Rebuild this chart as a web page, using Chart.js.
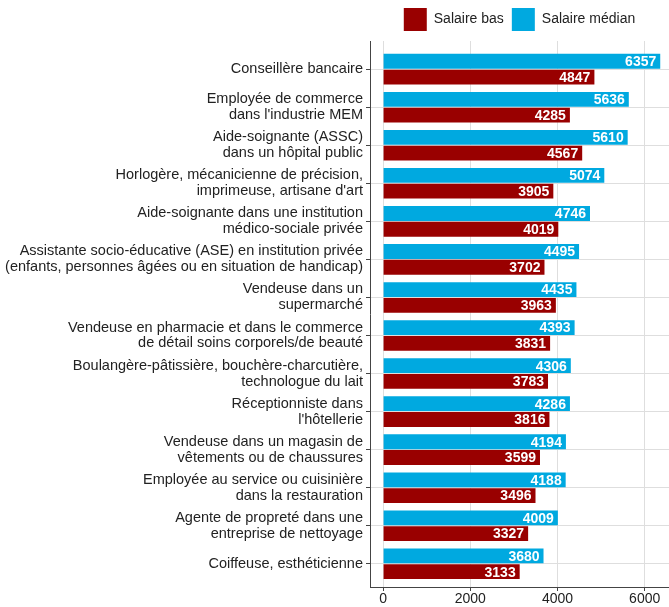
<!DOCTYPE html>
<html lang="fr">
<head>
    <meta charset="UTF-8">
    <title>Salaires - métiers féminins</title>
    <script src="https://cdn.jsdelivr.net/npm/chart.js"></script>
    <style>
        body { margin: 0; background: #fff; }
        .wrap { width: 669px; height: 607px; }
    </style>
</head>
<body>
    <div class="wrap"><canvas id="salaires"></canvas></div>

    <script>
        // Données
        const categories = [
            'Conseillère bancaire',
            ['Employée de commerce', "dans l'industrie MEM"],
            ['Aide-soignante (ASSC)', 'dans un hôpital public'],
            ['Horlogère, mécanicienne de précision,', "imprimeuse, artisane d'art"],
            ['Aide-soignante dans une institution', 'médico-sociale privée'],
            ['Assistante socio-éducative (ASE) en institution privée', '(enfants, personnes âgées ou en situation de handicap)'],
            ['Vendeuse dans un', 'supermarché'],
            ['Vendeuse en pharmacie et dans le commerce', 'de détail soins corporels/de beauté'],
            ['Boulangère-pâtissière, bouchère-charcutière,', 'technologue du lait'],
            ['Réceptionniste dans', "l'hôtellerie"],
            ['Vendeuse dans un magasin de', 'vêtements ou de chaussures'],
            ['Employée au service ou cuisinière', 'dans la restauration'],
            ['Agente de propreté dans une', 'entreprise de nettoyage'],
            'Coiffeuse, esthéticienne'
        ];
        const salaireMedian = [6357, 5636, 5610, 5074, 4746, 4495, 4435, 4393, 4306, 4286, 4194, 4188, 4009, 3680];
        const salaireBas = [4847, 4285, 4567, 3905, 4019, 3702, 3963, 3831, 3783, 3816, 3599, 3496, 3327, 3133];
        const xTicks = [0, 2000, 4000, 6000];

        const FONT = '"Liberation Sans", Arial, sans-serif';

        // Étiquettes blanches au bout des barres
        const barLabels = {
            id: 'barLabels',
            afterDatasetsDraw(chart) {
                const ctx = chart.ctx;
                ctx.save();
                ctx.font = 'bold 14px ' + FONT;
                ctx.fillStyle = '#ffffff';
                ctx.textAlign = 'right';
                ctx.textBaseline = 'middle';
                chart.data.datasets.forEach((ds, i) => {
                    chart.getDatasetMeta(i).data.forEach((bar, j) => {
                        ctx.fillText(ds.data[j].x, bar.x - 4, bar.y + 1);
                    });
                });
                ctx.restore();
            }
        };

        const ctx = document.getElementById('salaires').getContext('2d');
        new Chart(ctx, {
            type: 'bar',
            data: {
                datasets: [
                    {
                        label: 'Salaire médian',
                        data: salaireMedian.map((v, i) => ({ x: v, y: i })),
                        backgroundColor: '#00a9e0',
                        borderWidth: 0
                    },
                    {
                        label: 'Salaire bas',
                        data: salaireBas.map((v, i) => ({ x: v, y: i })),
                        backgroundColor: '#990000',
                        borderWidth: 0
                    }
                ]
            },
            options: {
                indexAxis: 'y',
                responsive: true,
                maintainAspectRatio: false,
                animation: false,
                categoryPercentage: 0.83,
                barPercentage: 0.94,
                layout: { padding: 0 },
                scales: {
                    x: {
                        type: 'linear',
                        min: -300,
                        max: 6558,
                        afterBuildTicks: (scale) => {
                            scale.ticks = xTicks.map(v => ({ value: v }));
                        },
                        ticks: {
                            callback: (v) => String(v),
                            font: { family: FONT, size: 14, lineHeight: 1 },
                            color: '#222',
                            padding: 1,
                            maxRotation: 0
                        },
                        grid: { color: '#dedede', tickColor: '#444', tickLength: 4 },
                        border: { color: '#444', width: 1 }
                    },
                    y: {
                        type: 'linear',
                        reverse: true,
                        offset: false,
                        min: -0.74,
                        max: 13.61,
                        afterBuildTicks: (scale) => {
                            scale.ticks = categories.map((c, i) => ({ value: i }));
                        },
                        afterFit: (scale) => {
                            scale.width = 370;
                        },
                        ticks: {
                            autoSkip: false,
                            callback: (v) => categories[v],
                            font: { family: FONT, size: 14.5, lineHeight: 1.1 },
                            color: '#222',
                            padding: 3
                        },
                        grid: { offset: false, color: '#dedede', tickColor: '#444', tickLength: 4 },
                        border: { color: '#444', width: 1 }
                    }
                },
                plugins: {
                    legend: {
                        position: 'top',
                        align: 'center',
                        fullSize: false,
                        reverse: true,
                        labels: {
                            boxWidth: 23,
                            boxHeight: 23,
                            padding: 8,
                            color: '#222',
                            font: { family: FONT, size: 14 }
                        }
                    },
                    tooltip: { enabled: false }
                }
            },
            plugins: [barLabels]
        });
    </script>
</body>
</html>
